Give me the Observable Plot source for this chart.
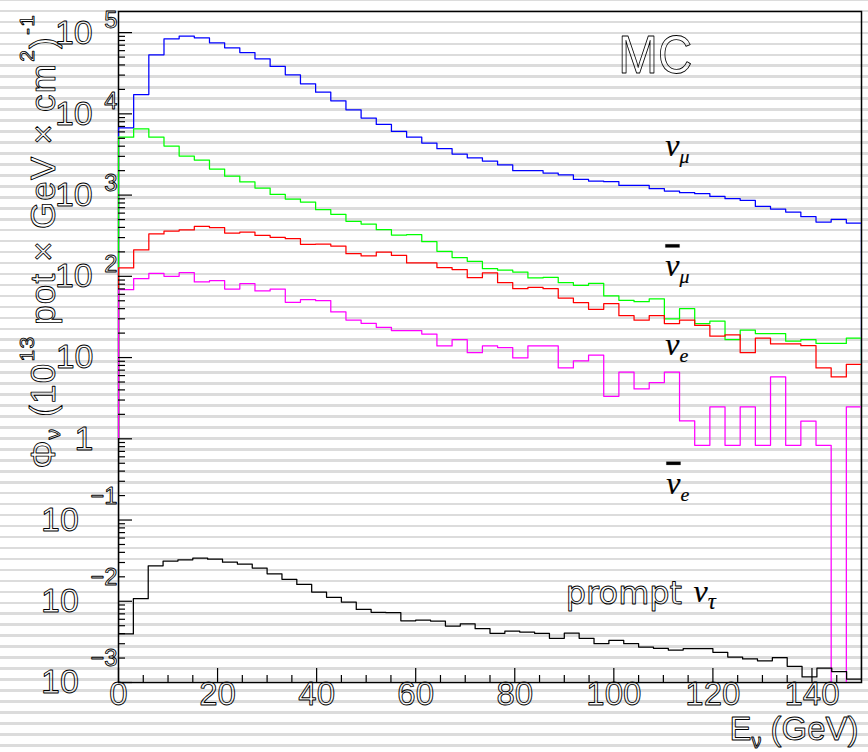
<!DOCTYPE html>
<html>
<head>
<meta charset="utf-8">
<script src="https://cdn.jsdelivr.net/npm/d3@7"></script>
<script src="https://cdn.jsdelivr.net/npm/@observablehq/plot@0.6"></script>
<style>
  html, body {
    margin: 0; padding: 0; width: 868px; height: 752px; overflow: hidden;
    background: repeating-linear-gradient(to bottom,
      #dcdcdc 0px, #dcdcdc 1.3px, #ffffff 1.3px, #ffffff 9.66px, #dcdcdc 9.66px, #dcdcdc 10.96px);
  }
  #chart svg { display: block; }
</style>
</head>
<body>
<div id="chart"></div>
<script>
// ---- Data ----
const energyRange = [0, 150];

// nu_mu flux per bin (49 bins over 0-150 GeV)
const numuFlux = [6740, 17300, 53300, 83800, 90300, 86200, 74800, 65000, 56900, 47600,
  38300, 30200, 23400, 18500, 14500, 11200, 8870, 7410, 6070, 5170,
  4370, 3720, 3200, 2880, 2620, 2360, 1995, 1995, 1870, 1780,
  1560, 1490, 1460, 1315, 1315, 1200, 1120, 1070, 1040, 964,
  902, 861, 726, 673, 618, 542, 466, 502, 453];

// anti-nu_mu flux per bin
const anumuFlux = [5170, 6550, 5170, 4010, 3020, 2700, 2090, 1710, 1450, 1220,
  1020, 894, 821, 661, 579, 475, 440, 375, 322, 326,
  267, 203, 170, 153, 124, 119, 113, 95.4, 97.2, 83.6,
  77.5, 82, 57.3, 50.7, 48.8, 52.6, 29.9, 40, 26.2, 28,
  16.6, 21.7, 19.7, 19.7, 15.9, 16.6, 14.9, 14.9, 17.4];

// nu_e flux per bin
const nueFlux = [127, 211, 332, 361, 372, 412, 397, 341, 351, 319,
  302, 291, 248, 250, 236, 190, 178, 199, 181, 146,
  146, 128, 121, 96.3, 110, 83.6, 70.5, 73.2, 70.5, 54.1,
  47.4, 39.3, 46.1, 32.8, 28.8, 32.8, 26.2, 29.0, 24.9, 18.3,
  19.0, 11.5, 17.3, 14.7, 14.7, 14.0, 7.45, 5.78, 8.27];

// anti-nu_e flux per bin
const anueFlux = [68.5, 93.6, 109, 100, 111, 85.2, 88.4, 69.8, 81.3, 66,
  69.8, 47.9, 51.6, 50.2, 36.4, 29, 26.4, 23.6, 21.5, 21.5,
  19.5, 13.9, 16.6, 11.5, 13.9, 13.3, 9.9, 13.9, 13.9, 7.45,
  9.1, 10.7, 3.34, 6.6, 4.11, 4.92, 6.6, 1.66, 0.83, 2.47,
  0.83, 2.47, 0.83, 5.78, 0.83, 1.65, 0.83, 0, 2.47];

// prompt nu_tau flux per bin (50 bins of 3 GeV)
const nutauFlux = [0.00396, 0.01074, 0.02735, 0.0312, 0.0324, 0.0340, 0.0330, 0.0303, 0.0287, 0.0256,
  0.0218, 0.0186, 0.0161, 0.0130, 0.0112, 0.00977, 0.00794, 0.00730, 0.00723, 0.00575,
  0.00587, 0.00570, 0.00495, 0.00528, 0.00459, 0.00403, 0.00430, 0.00418, 0.00403, 0.00350,
  0.00406, 0.00350, 0.00300, 0.00330, 0.00300, 0.00273, 0.00264, 0.00251, 0.00261, 0.00261,
  0.00235, 0.00206, 0.00195, 0.00185, 0.00202, 0.00158, 0.00117, 0.00150, 0.00136, 0.00110];

const seriesNames = ["numu", "anumu", "nue", "anue", "nutau"];
const seriesColors = ["#0000ff", "#00ff00", "#ff0000", "#ff00ff", "#000000"];

// axis ticks
const xMajorTicks = [0, 20, 40, 60, 80, 100, 120, 140];
const xMinorTicks = [5, 10, 15, 25, 30, 35, 45, 50, 55, 65, 70, 75, 85, 90, 95, 105, 110, 115, 125, 130, 135, 145];
const yDecades = [-3, -2, -1, 0, 1, 2, 3, 4, 5];
const yDomain = [1e-3, 1.82e5];

// text
const yTitle = "Φ_{ν} (10^{13} pot × GeV × cm^{2})^{-1}";
const xTitle = "E_{ν} (GeV)";
const nuLabelText = ["ν_{μ}", "ν̄_{μ}", "ν_{e}", "ν̄_{e}"];
const nuLabelE = [110.4, 110.4, 110.4, 110.6];
const nuLabelFlux = [4080, 134, 14.2, 0.282];
const mcText = "MC", mcE = 100.9, mcFlux = 52300;
const promptText = "prompt", promptE = 90.3, promptFlux = 0.01246;
const tauText = "ν_{τ}", tauE = 116.1, tauFlux = 0.0130;

// ---- build step outlines ----
function histPoints(values, name) {
  const [lo, hi] = energyRange;
  const w = (hi - lo) / values.length;
  const pos = v => (v > 0 ? v : 1e-5);
  const pts = [{x: lo, y: 1, s: name}];
  values.forEach((v, i) => {
    pts.push({x: lo + i * w, y: pos(v), s: name});
    pts.push({x: lo + (i + 1) * w, y: pos(v), s: name});
  });
  pts.push({x: hi, y: 1, s: name});
  return pts;
}
const allValues = [numuFlux, anumuFlux, nueFlux, anueFlux, nutauFlux];

const yMajor = yDecades.map(d => 10 ** d);
const yMinor = [];
for (const d of yDecades) for (let k = 2; k <= 9; k++) { const v = k * 10 ** d; if (v <= yDomain[1]) yMinor.push(v); }

const expFmt = d => (d < 0 ? "−" + Math.abs(d) : String(d));
const yLabExp = yDecades.filter(d => d >= 2 || d < 0);
const yLabPlain = yDecades.filter(d => d === 0 || d === 1);

const hollow = {fontFamily: "Liberation Sans", fill: "none", stroke: "#000", strokeWidth: 0.9};
const nuStyle = {fontFamily: "Liberation Serif", fontStyle: "italic", fill: "#000", stroke: "#000", strokeWidth: 0.2};

const plot = Plot.plot({
  width: 868, height: 752,
  marginLeft: 118, marginRight: 7, marginTop: 11, marginBottom: 70,
  style: {background: "transparent", overflow: "visible"},
  x: {domain: energyRange},
  y: {type: "log", domain: yDomain},
  marks: [
    Plot.frame({stroke: "#000", strokeWidth: 1.5}),
    ...allValues.map((vals, i) => Plot.line(histPoints(vals, seriesNames[i]), {
      x: "x", y: "y", stroke: seriesColors[i], strokeWidth: 1.25, clip: true
    })),
    Plot.axisX(xMajorTicks, {anchor: "bottom", tickSize: -14, fill: "none", label: null, strokeWidth: 1.2}),
    Plot.axisX(xMinorTicks, {anchor: "bottom", tickSize: -7, fill: "none", label: null, strokeWidth: 1.2}),
    Plot.axisY(yMajor, {anchor: "left", tickSize: -14, fill: "none", label: null, strokeWidth: 1.2}),
    Plot.axisY(yMinor, {anchor: "left", tickSize: -7, fill: "none", label: null, strokeWidth: 1.2}),
    // x tick labels
    Plot.text(xMajorTicks, {x: d => d, frameAnchor: "bottom", dy: 22, text: d => String(d), fontSize: 33, ...hollow}),
    // y tick labels
    Plot.text(yLabExp, {y: d => 10 ** d, frameAnchor: "left", dx: -1, textAnchor: "end",
      text: d => `10^{${expFmt(d)}}`, fontSize: 34, ...hollow}),
    Plot.text(yLabPlain, {y: d => 10 ** d, frameAnchor: "left", dx: -25, textAnchor: "end",
      text: d => (d === 0 ? "1" : "10"), fontSize: 34, ...hollow}),
    // axis titles
    Plot.text([yTitle], {frameAnchor: "bottom-left", dx: -64, dy: -214, rotate: -90, textAnchor: "start",
      text: d => d, fontSize: 35, ...hollow}),
    Plot.text([xTitle], {frameAnchor: "bottom-right", dx: -3, dy: 57, textAnchor: "end",
      text: d => d, fontSize: 33, ...hollow}),
    // annotations
    Plot.text([mcText], {x: () => mcE, y: () => mcFlux, text: d => d, textAnchor: "start", fontSize: 54, ...hollow}),
    Plot.text([promptText], {x: () => promptE, y: () => promptFlux, text: d => d, textAnchor: "start",
      fontSize: 32, fontFamily: "DejaVu Sans", fill: "none", stroke: "#000", strokeWidth: 0.9}),
    Plot.text([tauText], {x: () => tauE, y: () => tauFlux, text: d => d, textAnchor: "start", fontSize: 32, ...nuStyle}),
    Plot.text(nuLabelText, {x: (d, i) => nuLabelE[i], y: (d, i) => nuLabelFlux[i], text: d => d,
      textAnchor: "start", fontSize: 32, ...nuStyle})
  ]
});

document.getElementById("chart").appendChild(plot);

// ---- rich text: _{sub}, ^{sup}, combining bar (as overline) ----
const NS = "http://www.w3.org/2000/svg";
function richText(t, opt) {
  const s = t.textContent;
  if (!/[_^]\{|\u0304/.test(s)) return;
  const fs = parseFloat(getComputedStyle(t).fontSize) || 10;
  const re = /([_^])\{([^}]*)\}/g;
  const segs = []; let last = 0, m;
  while ((m = re.exec(s))) {
    if (m.index > last) segs.push({k: "n", s: s.slice(last, m.index)});
    segs.push({k: m[1], s: m[2]});
    last = re.lastIndex;
  }
  if (last < s.length) segs.push({k: "n", s: s.slice(last)});
  while (t.firstChild) t.removeChild(t.firstChild);
  let cur = 0;
  const add = (txt, attrs, style) => {
    const ts = document.createElementNS(NS, "tspan");
    for (const k in attrs) if (attrs[k] !== undefined && attrs[k] !== 0) ts.setAttribute(k, attrs[k]);
    if (style) ts.setAttribute("style", style);
    ts.textContent = txt;
    t.appendChild(ts);
    return ts;
  };
  for (const g of segs) {
    let target = 0, size, dx = 0;
    if (g.k === "_") { target = opt.sub * fs; size = opt.size * fs; }
    else if (g.k === "^") {
      const neg = g.s.startsWith("−");
      target = -(neg && opt.supNeg ? opt.supNeg : opt.sup) * fs; size = opt.size * fs;
      dx = (opt.supDx || 0) * fs;
    }
    const dy = target - cur; cur = target;
    if (g.k === "n" && g.s.includes("\u0304")) {
      const parts = g.s.split(/(.\u0304)/u).filter(p => p.length);
      let first = true;
      for (const p of parts) {
        const barred = p.endsWith("\u0304");
        add(barred ? p.slice(0, -1) : p, {dx: first ? dx : 0, dy: first ? dy : 0, "font-size": size},
          barred ? "text-decoration: overline; text-decoration-thickness: 1px;" : null);
        first = false;
      }
      continue;
    }
    add(g.s, {dx: dx, dy: dy, "font-size": size});
  }
}
const svg = plot.tagName.toLowerCase() === "svg" ? plot : plot.querySelector("svg");
svg.querySelectorAll("text").forEach(t => {
  const s = t.textContent;
  if (/^10\^\{/.test(s)) richText(t, {sub: 0.3, sup: 0.45, supNeg: 0.8, size: 0.7, supDx: 0.34});
  else if (s.includes("pot")) { richText(t, {sub: 0.16, sup: 0.6, size: 0.6, supDx: 0.03}); t.setAttribute("letter-spacing", "1.2px"); }
  else if (s.startsWith("E_")) richText(t, {sub: 0.25, sup: 0.5, size: 0.6, supDx: 0});
  else if (s.includes("τ")) richText(t, {sub: 0.2, sup: 0.42, size: 0.7, supDx: 0.05});
  else richText(t, {sub: 0.22, sup: 0.42, size: 0.62, supDx: 0.05});
  if (t.textContent === "MC") { t.setAttribute("textLength", 74); t.setAttribute("lengthAdjust", "spacingAndGlyphs"); }
});
</script>
</body>
</html>
